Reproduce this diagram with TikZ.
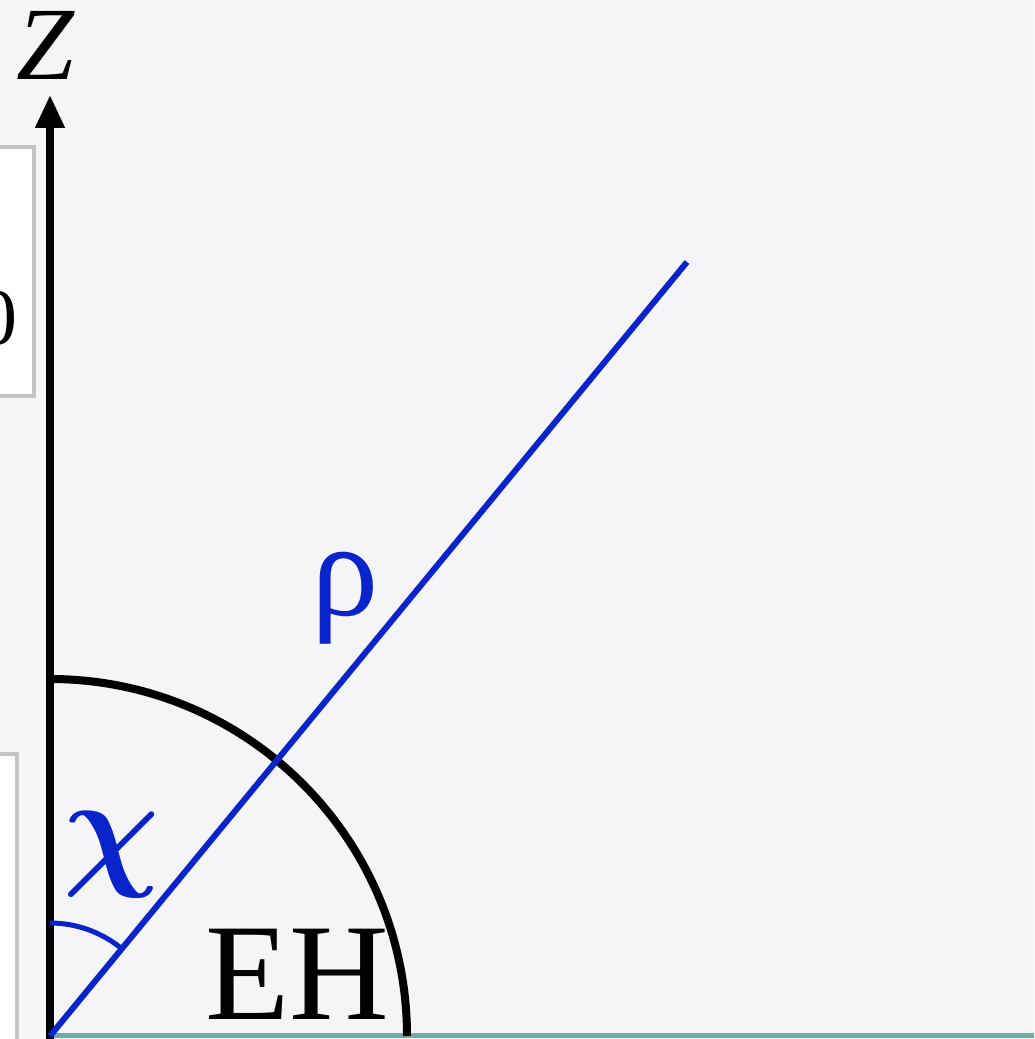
\documentclass[tikz,border=0pt]{standalone}
\usepackage{amsmath}
\usepackage{fontspec}
\setmainfont{Liberation Serif}
\usetikzlibrary{arrows.meta}
\definecolor{bg}{HTML}{F5F5F8}
\definecolor{bluel}{HTML}{0A24CC}
\definecolor{teal2}{HTML}{6AADAB}
\definecolor{boxgray}{HTML}{C4C4C4}
\newcommand{\bigchi}{\scalebox{5.4}{$\boldsymbol{\chi}$}}
\tikzset{
  sidebox/.style={fill=white,draw=boxgray,line width=4pt},
  axisline/.style={line width=7.5pt,black},
  lbl/.style={inner sep=0pt,outer sep=0pt},
}
\begin{document}
\begin{tikzpicture}[x=1pt,y=1pt]
\useasboundingbox (0,0) rectangle (1034,1039);
\clip (0,0) rectangle (1034,1039);
\fill[bg] (0,0) rectangle (1034,1039);
% side boxes
\draw[sidebox] (-20,643) rectangle (34,892);
\node[lbl,anchor=east,font=\fontsize{80}{80}\selectfont] (zero) at (18,721) {0};
\draw[sidebox] (-20,-20) rectangle (17,285);
% bottom line
\coordinate (O) at (50,3);
\coordinate (B) at (1034,3);
\draw[teal2,line width=5pt] (O) -- (B);
% z axis
\coordinate (Ztop) at (50,944);
\draw[axisline,-{Triangle[length=33pt,width=28pt]}] (50,0) -- (Ztop);
\node[lbl,font=\fontsize{104}{104}\selectfont\itshape] (Zl) at (45,994) {Z};
% horizon arc
\draw[black,line width=8pt] (O) ++(357,0) arc[start angle=0,end angle=90,radius=357];
% rho line
\coordinate (R) at (687,777);
\draw[bluel,line width=6pt] (O) -- (R);
% chi arc
\draw[bluel,line width=5pt] (O) ++(0,113) arc[start angle=90,end angle=50.5,radius=113];
% labels
\node[lbl,text=bluel,font=\Huge] (chi) at (112,184) {\bigchi};
\node[lbl,text=bluel,font=\fontsize{135}{135}\selectfont] (rho) at (345,441) {ρ};
\node[lbl,font=\fontsize{138}{138}\selectfont] (EH) at (297,65) {EH};
\end{tikzpicture}
\end{document}
